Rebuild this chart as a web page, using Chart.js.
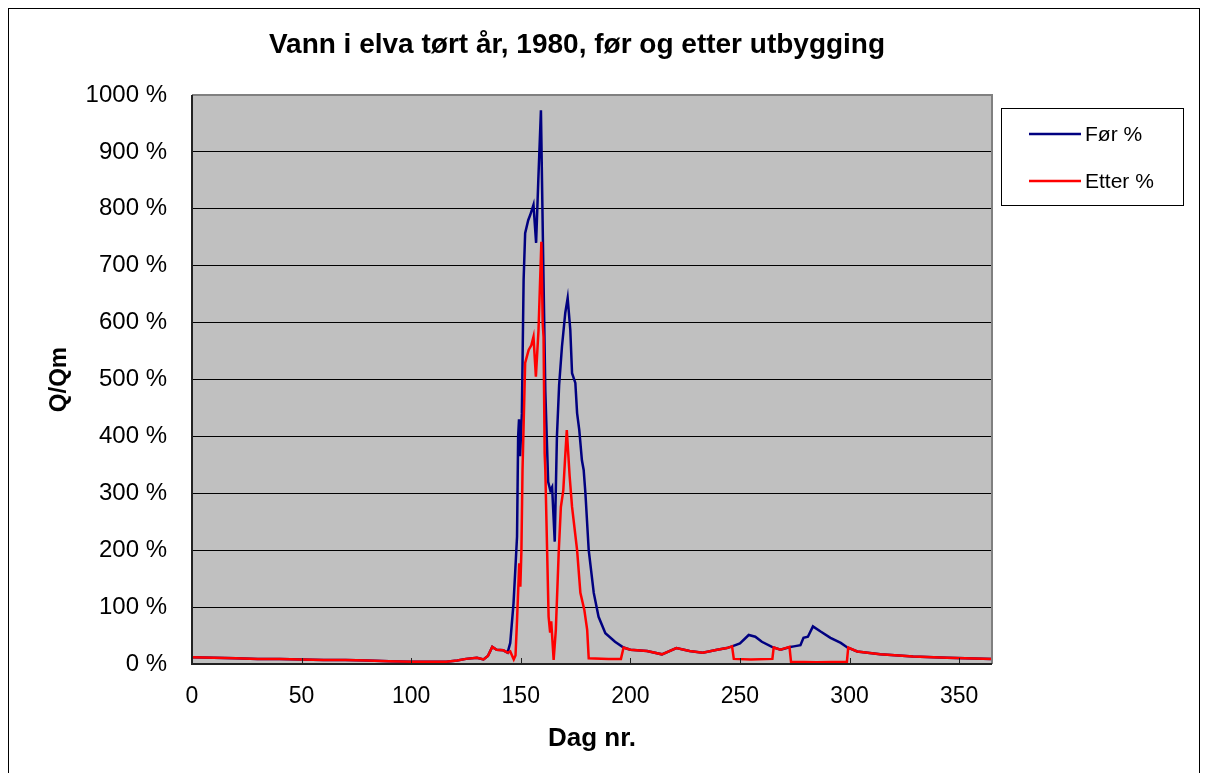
<!DOCTYPE html>
<html>
<head>
<meta charset="utf-8">
<script src="https://cdn.jsdelivr.net/npm/chart.js@4.4.1/dist/chart.umd.min.js"></script>
<style>
  body { margin: 0; background: #fff; }
</style>
</head>
<body>
<canvas id="chart" width="1206" height="773"></canvas>
<script>
// -------- data (dag, prosent) --------
const chartTitle = "Vann i elva tørt år, 1980, før og etter utbygging";
const seriesNames = ["Før %", "Etter %"];
const xTickValues = [0, 50, 100, 150, 200, 250, 300, 350];
const yTickValues = [0, 100, 200, 300, 400, 500, 600, 700, 800, 900, 1000];

const foerPoints = [
  [0,12],[10,11],[20,10],[30,9],[40,9],[50,8],[60,7],[70,7],[80,6],[90,5],[100,4],[110,4],[116,4],
  [121,6],[125,9],[130,11],[133,8],[135,14],[137,30],[139,25],[142,24],[144,20],[145.2,37],[146.7,107],
  [147.5,165],[148.3,224],[148.8,400],[149.2,430],[149.7,365],[150.5,440],[151.3,675],[152,757],
  [153.4,780],[154.3,789],[155.8,807],[157,740],[158,850],[159.2,973],[160.2,720],[161.2,480],
  [162.5,320],[163.5,305],[164.3,311],[165.5,215],[166.5,400],[167.5,490],[168.8,558],[170.3,617],
  [171.4,643],[172.6,587],[173.4,511],[174.9,494],[175.7,441],[176.7,411],[177.9,358],[178.7,341],
  [179.5,300],[181,200],[183.3,125],[185.5,83],[188.6,54],[193,39],[196.9,29],[200,25],[207.6,23],
  [214.4,17],[221,28],[227,23],[233,20],[239.6,25],[244,28],[246.4,31],[250,36],[254,51],[257,48],
  [260,39],[264.6,30],[268.5,25],[273,30],[274.6,31],[277.6,33],[279,46],[281,48],[283.3,66],
  [286.8,57],[291.3,46],[296,37],[299,29],[303.5,22],[314,17],[329,13],[344.6,11],[365,9]
];

const etterPoints = [
  [0,12],[10,11],[20,10],[30,9],[40,9],[50,8],[60,7],[70,7],[80,6],[90,5],[100,4],[110,4],[116,4],
  [121,6],[125,9],[130,11],[133,8],[135,14],[137,30],[139,25],[142,24],[144,20],[145.2,22],[146.8,8],
  [147.6,15],[148.3,77],[149.3,177],[149.8,136],[150.3,200],[150.8,341],[152,529],[153.6,552],
  [154.8,560],[155.8,575],[156.9,505],[158.1,587],[159.4,742],[160,600],[160.4,575],[160.9,370],
  [161.2,341],[162.7,83],[163.4,55],[163.9,75],[165,7],[166,60],[167.3,195],[168.3,276],[169.4,305],
  [170.2,360],[171,411],[172.3,330],[173.4,276],[175.7,200],[177.2,125],[179,95],[180.3,60],[181,10],
  [190,9],[195.7,9],[196.9,29],[200,25],[207.6,23],[214.4,17],[221,28],[227,23],[233,20],[239.6,25],
  [244,28],[246.4,31],[247.2,9],[255,8],[264.8,9],[265.4,29],[268.5,25],[272.6,30],[273.3,4],
  [285,3],[298.8,4],[299.4,29],[303.5,22],[314,17],[329,13],[344.6,11],[365,9]
];

const FONT = "'Liberation Sans', Arial, sans-serif";
Chart.defaults.font.family = FONT;
Chart.defaults.color = "#000";

function toXY(points) {
  return points.map(p => ({ x: p[0], y: p[1] }));
}

// -------- frame, plot background, legend, title --------
const decor = {
  id: "decor",
  beforeDraw(chart) {
    const { ctx, chartArea: a } = chart;
    ctx.save();
    ctx.fillStyle = "#fff";
    ctx.fillRect(0, 0, chart.width, chart.height);
    ctx.strokeStyle = "#000";
    ctx.lineWidth = 1;
    ctx.strokeRect(8.5, 8.5, chart.width - 15, chart.height - 8);
    ctx.fillStyle = "#c0c0c0";
    ctx.fillRect(a.left, a.top, a.right - a.left, a.bottom - a.top);
    ctx.restore();
  },
  afterDraw(chart) {
    const { ctx, chartArea: a } = chart;
    const xs = chart.scales.x;
    ctx.save();
    // plot border
    ctx.strokeStyle = "#808080";
    ctx.lineWidth = 2;
    ctx.beginPath();
    ctx.moveTo(a.left, a.top);
    ctx.lineTo(a.right, a.top);
    ctx.lineTo(a.right, a.bottom);
    ctx.stroke();
    ctx.strokeStyle = "#222";
    ctx.beginPath();
    ctx.moveTo(a.left, a.top);
    ctx.lineTo(a.left, a.bottom);
    ctx.lineTo(a.right, a.bottom);
    ctx.stroke();
    // inward tick marks on x axis
    ctx.lineWidth = 1;
    xs.ticks.forEach(t => {
      const px = Math.round(xs.getPixelForValue(t.value)) + 0.5;
      ctx.beginPath();
      ctx.moveTo(px, a.bottom);
      ctx.lineTo(px, a.bottom - 6);
      ctx.stroke();
    });
    // title
    ctx.fillStyle = "#000";
    ctx.font = "bold 28px " + FONT;
    ctx.textAlign = "center";
    ctx.textBaseline = "middle";
    ctx.fillText(chartTitle, 577, 45);
    // legend box
    ctx.fillStyle = "#fff";
    ctx.fillRect(1001, 108, 182, 97);
    ctx.strokeStyle = "#000";
    ctx.lineWidth = 1;
    ctx.strokeRect(1001.5, 108.5, 182, 97);
    ctx.font = "21px " + FONT;
    ctx.textAlign = "left";
    chart.data.datasets.forEach((ds, i) => {
      const y = 134 + i * 47;
      ctx.strokeStyle = ds.borderColor;
      ctx.lineWidth = 2.5;
      ctx.beginPath();
      ctx.moveTo(1029, y);
      ctx.lineTo(1081, y);
      ctx.stroke();
      ctx.fillStyle = "#000";
      ctx.fillText(ds.label, 1085, y + 1);
    });
    ctx.restore();
  }
};

new Chart(document.getElementById("chart"), {
  type: "line",
  data: {
    datasets: [
      {
        label: seriesNames[0],
        data: toXY(foerPoints),
        borderColor: "#000080",
        borderWidth: 2.5,
        pointRadius: 0,
        tension: 0,
        order: 2
      },
      {
        label: seriesNames[1],
        data: toXY(etterPoints),
        borderColor: "#ff0000",
        borderWidth: 2.5,
        pointRadius: 0,
        tension: 0,
        order: 1
      }
    ]
  },
  options: {
    responsive: false,
    animation: false,
    layout: { padding: { top: 95, right: 214, bottom: 10, left: 10 } },
    plugins: {
      legend: { display: false },
      title: { display: false },
      tooltip: { enabled: false }
    },
    scales: {
      x: {
        type: "linear",
        min: 0,
        max: 365,
        afterBuildTicks: s => { s.ticks = xTickValues.map(v => ({ value: v })); },
        afterFit: s => { s.height = 99; },
        ticks: { font: { size: 23 }, padding: 11, maxRotation: 0 },
        grid: { display: false },
        border: { display: false },
        title: {
          display: true,
          text: "Dag nr.",
          font: { size: 26, weight: "bold" },
          padding: { top: 0, bottom: 9 }
        }
      },
      y: {
        min: 0,
        max: 1000,
        afterBuildTicks: s => { s.ticks = yTickValues.map(v => ({ value: v })); },
        afterFit: s => { s.width = 182; },
        ticks: { font: { size: 24 }, padding: 25, callback: v => v + " %" },
        grid: { color: "#000", lineWidth: 1, drawTicks: false },
        border: { display: false },
        title: {
          display: true,
          text: "Q/Qm",
          font: { size: 24, weight: "bold" },
          padding: { top: 35, bottom: 0 }
        }
      }
    }
  },
  plugins: [decor]
});
</script>
</body>
</html>
